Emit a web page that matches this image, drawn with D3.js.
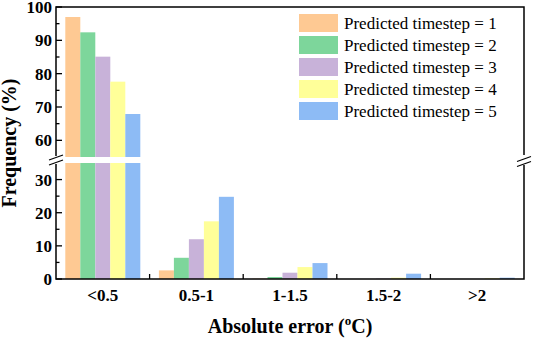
<!DOCTYPE html>
<html>
<head>
<meta charset="utf-8">
<script src="https://cdn.jsdelivr.net/npm/d3@7"></script>
<style>
  body { margin: 0; background: #fff; }
</style>
</head>
<body>
<div class="chart"></div>
<script>
const categories = ["<0.5", "0.5-1", "1-1.5", "1.5-2", ">2"];
const seriesNames = ["Predicted timestep = 1", "Predicted timestep = 2", "Predicted timestep = 3", "Predicted timestep = 4", "Predicted timestep = 5"];
const step1 = [97.0, 2.6, 0.1, 0.0, 0.0];
const step2 = [92.4, 6.4, 0.6, 0.0, 0.0];
const step3 = [85.1, 12.0, 1.9, 0.1, 0.0];
const step4 = [77.6, 17.4, 3.6, 0.4, 0.2];
const step5 = [67.9, 24.8, 4.8, 1.6, 0.4];
const series = [step1, step2, step3, step4, step5];
const colors = ["#fec993", "#7dd69b", "#c8b2d9", "#ffff99", "#8dbbf5"];
const lowerTicks = [0, 10, 20, 30];
const upperTicks = [60, 70, 80, 90, 100];

const W = 533, H = 339;
const plot = { left: 56, right: 524, top: 7, bottom: 279, gapTop: 157, gapBot: 163 };
const FONT = "Liberation Serif";

const svg = d3.select(".chart").append("svg")
	.attr("width", W).attr("height", H);

const x = d3.scaleBand().domain(categories).range([plot.left, plot.right]).paddingInner(0).paddingOuter(0);
const inner = d3.scaleBand().domain(d3.range(5)).range([0, x.bandwidth()]).paddingOuter(0.62).paddingInner(0);

const yLow = d3.scaleLinear().domain([0, 35]).range([plot.bottom, plot.gapBot]);
const yHigh = d3.scaleLinear().domain([55, 100]).range([plot.gapTop, plot.top]);

// bars
series.forEach((vals, si) => {
	const g = svg.append("g").attr("fill", colors[si]);
	vals.forEach((v, ci) => {
		const bx = x(categories[ci]) + inner(si);
		const lowTop = yLow(Math.min(v, 35));
		g.append("rect")
			.attr("x", bx).attr("width", inner.bandwidth())
			.attr("y", lowTop).attr("height", plot.bottom - lowTop);
		if (v > 55) {
			g.append("rect")
				.attr("x", bx).attr("width", inner.bandwidth())
				.attr("y", yHigh(v)).attr("height", plot.gapTop - yHigh(v));
		}
	});
});

// frame
const ax = svg.append("g").attr("stroke", "#000").attr("stroke-width", 1.5).attr("fill", "none");
ax.append("path").attr("d", `M${plot.left},${plot.gapTop - 1}V${plot.top}H${plot.right}V${plot.gapTop - 2}`);
ax.append("path").attr("d", `M${plot.left},${plot.gapBot + 1}V${plot.bottom}H${plot.right}V${plot.gapBot + 2}`);
// break marks
const mid = (plot.gapTop + plot.gapBot) / 2;
[[plot.left, 0], [plot.right, 1.5]].forEach(([bx, dy]) => {
	[-2.5, 2.5].forEach(o => {
		ax.append("line")
			.attr("x1", bx - 7).attr("x2", bx + 7)
			.attr("y1", mid + o + 2.5 + dy).attr("y2", mid + o - 2.5 + dy)
			.attr("stroke-width", 1.2);
	});
});

// y ticks
const tickG = svg.append("g").attr("stroke", "#000").attr("stroke-width", 1.3);
function yTicks(scale, majors) {
	majors.forEach(t => {
		tickG.append("line").attr("x1", plot.left).attr("x2", plot.left + 6).attr("y1", scale(t)).attr("y2", scale(t));
		svg.append("text").attr("x", plot.left - 4).attr("y", scale(t)).attr("dy", "0.35em")
			.attr("text-anchor", "end").attr("font-weight", "bold").attr("font-size", 17).text(t);
		const m = t - 5;
		if (m > scale.domain()[0]) {
			tickG.append("line").attr("x1", plot.left).attr("x2", plot.left + 3.5).attr("y1", scale(m)).attr("y2", scale(m));
		}
	});
	const last = majors[majors.length - 1] + 5;
	if (last < scale.domain()[1]) {
		tickG.append("line").attr("x1", plot.left).attr("x2", plot.left + 3.5).attr("y1", scale(last)).attr("y2", scale(last));
	}
}
yTicks(yLow, lowerTicks);
yTicks(yHigh, upperTicks);

// x ticks at band boundaries
categories.slice(1).forEach(c => {
	tickG.append("line").attr("x1", x(c)).attr("x2", x(c)).attr("y1", plot.bottom).attr("y2", plot.bottom - 5);
});
categories.forEach(c => {
	svg.append("text").attr("x", x(c) + x.bandwidth() / 2).attr("y", 301)
		.attr("text-anchor", "middle").attr("font-weight", "bold").attr("font-size", 17).text(c);
});

// axis titles
svg.append("text").attr("x", (plot.left + plot.right) / 2).attr("y", 333)
	.attr("text-anchor", "middle").attr("font-weight", "bold").attr("font-size", 20)
	.call(t => {
		t.append("tspan").text("Absolute error (");
		t.append("tspan").attr("dy", -8).attr("font-size", 13).text("o");
		t.append("tspan").attr("dy", 8).text("C)");
	});
svg.append("text").attr("transform", `translate(16,${(plot.top + plot.bottom) / 2}) rotate(-90)`)
	.attr("text-anchor", "middle").attr("font-weight", "bold").attr("font-size", 20)
	.text("Frequency (%)");

// legend
const lg = svg.append("g").attr("transform", "translate(299,14)");
seriesNames.forEach((name, i) => {
	lg.append("rect").attr("x", 0).attr("y", i * 22).attr("width", 39).attr("height", 18).attr("fill", colors[i]);
	lg.append("text").attr("x", 45).attr("y", i * 22 + 9).attr("dy", "0.35em")
		.attr("font-size", 17).text(name);
});

svg.selectAll("text, tspan").attr("font-family", FONT).style("font-family", FONT);
</script>
</body>
</html>
